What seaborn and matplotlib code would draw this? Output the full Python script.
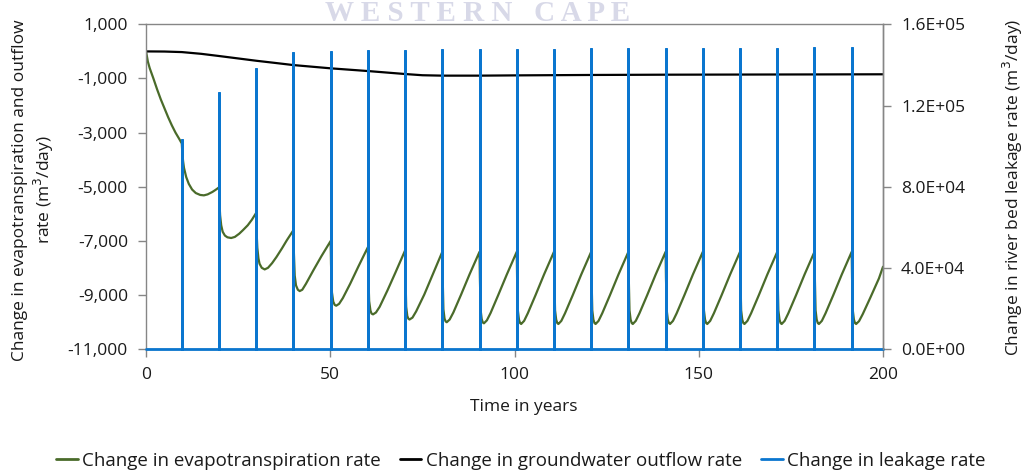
import matplotlib
matplotlib.use("Agg")
import matplotlib.pyplot as plt
import seaborn as sns
import pandas as pd
from matplotlib.ticker import FixedLocator, FuncFormatter
from matplotlib.lines import Line2D

# ---------------- data ----------------
# Evapotranspiration change (m3/day)
et_years = [
    0, 0.5, 1, 2, 3, 4, 5, 6, 7, 8, 9, 9.7,
    9.85, 10.05, 10.3, 10.9, 11.6, 12.5, 13.5, 14.7, 15.7, 16.7, 18.0, 18.9, 19.8,
    19.9, 20.1, 20.4, 20.8, 21.4, 22.1, 23.1, 24.1, 25.3, 26.3, 27.6, 28.7, 29.9,
    30.0, 30.2, 30.5, 30.8, 31.4, 32.2, 33.1, 34.2, 35.4, 36.9, 38.2, 40.0,
    40.1, 40.35, 40.7, 41.2, 41.7, 42.4, 43.4, 45.4, 47.6, 50.1,
    50.2, 50.45, 50.8, 51.2, 51.6, 52.4, 53.4, 55.4, 57.6, 60.2,
    60.3, 60.55, 60.9, 61.2, 61.6, 62.4, 63.4, 65.5, 67.7, 70.3,
    70.4, 70.6, 70.9, 71.2, 71.5, 72.3, 73.3, 75.5, 77.7, 80.4,
    80.5, 80.7, 81.0, 81.3, 81.6, 82.4, 83.4, 85.5, 87.8, 90.5,
    90.6, 90.8, 91.1, 91.4, 91.7, 92.5, 93.5, 95.6, 97.9, 100.6,
    100.7, 100.9, 101.2, 101.5, 101.8, 102.6, 103.6, 105.7, 108.0, 110.7,
    110.8, 111.0, 111.3, 111.6, 111.9, 112.7, 113.7, 115.8, 118.1, 120.8,
    120.9, 121.1, 121.4, 121.7, 122.0, 122.8, 123.8, 125.9, 128.2, 130.9,
    131.0, 131.2, 131.5, 131.8, 132.1, 132.9, 133.9, 136.0, 138.3, 141.0,
    141.1, 141.3, 141.6, 141.9, 142.2, 143.0, 144.0, 146.1, 148.4, 151.1,
    151.2, 151.4, 151.7, 152.0, 152.3, 153.1, 154.1, 156.2, 158.5, 161.2,
    161.3, 161.5, 161.8, 162.1, 162.4, 163.2, 164.2, 166.3, 168.6, 171.3,
    171.4, 171.6, 171.9, 172.2, 172.5, 173.3, 174.3, 176.4, 178.7, 181.4,
    181.5, 181.7, 182.0, 182.3, 182.6, 183.4, 184.4, 186.5, 188.8, 191.5,
    191.6, 191.8, 192.1, 192.4, 192.7, 193.5, 194.5, 196.6, 198.9, 200.0,
]
et_values = [
    0, -380, -620, -1000, -1400, -1770, -2100, -2430, -2730, -3000, -3230, -3400,
    -3750, -4050, -4300, -4640, -4890, -5100, -5230, -5300, -5315, -5280, -5190, -5110, -5020,
    -5500, -6050, -6420, -6660, -6800, -6865, -6890, -6850, -6730, -6600, -6420, -6220, -5960,
    -6650, -7250, -7640, -7840, -7990, -8050, -7990, -7820, -7590, -7270, -6975, -6600,
    -7350, -8280, -8640, -8800, -8850, -8800, -8580, -8085, -7560, -7000,
    -7850, -8900, -9240, -9360, -9390, -9320, -9110, -8580, -7950, -7230,
    -8150, -9220, -9570, -9680, -9710, -9640, -9430, -8830, -8160, -7350,
    -8300, -9430, -9770, -9870, -9900, -9830, -9600, -8980, -8270, -7400,
    -8350, -9520, -9860, -9970, -10000, -9900, -9640, -8980, -8230, -7400,
    -8350, -9550, -9890, -10010, -10040, -9930, -9660, -8990, -8240, -7400,
    -8350, -9560, -9900, -10030, -10065, -9950, -9670, -9000, -8240, -7400,
    -8350, -9560, -9900, -10030, -10065, -9950, -9670, -9000, -8240, -7400,
    -8350, -9560, -9900, -10030, -10065, -9950, -9670, -9000, -8240, -7400,
    -8350, -9560, -9900, -10030, -10065, -9950, -9670, -9000, -8240, -7400,
    -8350, -9560, -9900, -10030, -10065, -9950, -9670, -9000, -8240, -7400,
    -8350, -9560, -9900, -10030, -10065, -9950, -9670, -9000, -8240, -7400,
    -8350, -9560, -9900, -10030, -10065, -9950, -9670, -9000, -8240, -7400,
    -8350, -9560, -9900, -10030, -10065, -9950, -9670, -9000, -8240, -7400,
    -8350, -9560, -9900, -10030, -10065, -9950, -9670, -9000, -8240, -7400,
    -8350, -9560, -9900, -10030, -10065, -9960, -9700, -9080, -8380, -7950,
]

# Groundwater outflow change (m3/day)
gw_years = [0, 5, 9.7, 15, 19.8, 25, 29.9, 35, 40.0, 50.1, 60.2, 70.3, 75,
            80.4, 90.5, 100.6, 120.8, 141.0, 161.2, 181.4, 200]
gw_values = [0, -5, -25, -90, -170, -260, -345, -425, -505, -625, -725, -835, -880,
             -895, -895, -885, -870, -860, -855, -850, -845]

# River-bed leakage change (m3/day): spike times and peak values
leak_years = [9.7, 19.8, 29.9, 40.0, 50.1, 60.2, 70.3, 80.4, 90.5, 100.6,
              110.7, 120.8, 130.9, 141.0, 151.1, 161.2, 171.3, 181.4, 191.5]
leak_peaks = [103500, 126500, 138500, 146200, 146900, 147300, 147600, 147700,
              147800, 147900, 148000, 148100, 148200, 148300, 148300, 148400,
              148500, 148600, 148700]

left_ticks = [-11000, -9000, -7000, -5000, -3000, -1000, 1000]
right_ticks = [0, 40000, 80000, 120000, 160000]
x_ticks = [0, 50, 100, 150, 200]

labels = ["Change in evapotranspiration rate",
          "Change in groundwater outflow rate",
          "Change in leakage rate"]

# ---------------- style ----------------
sns.set_style("white")
plt.rcParams["font.family"] = ["Open Sans", "DejaVu Sans"]

GREEN = "#4a6b2a"
BLACK = "#000000"
BLUE = "#0a76cf"
GRAY = "#868686"
TXT = "#1a1a1a"
FS = 12.5

fig = plt.figure(figsize=(10.27, 4.75), dpi=100)
ax = fig.add_axes([0.1422, 0.2646, 0.7176, 0.6842])
ax2 = ax.twinx()

et_df = pd.DataFrame({"year": et_years, "value": et_values})
gw_df = pd.DataFrame({"year": gw_years, "value": gw_values})

# build spike line for leakage from the spike arrays
lx, ly = [0], [0]
for t, p in zip(leak_years, leak_peaks):
    lx += [t, t, t]
    ly += [0, p, 0]
lx.append(200)
ly.append(0)
lk_df = pd.DataFrame({"year": lx, "value": ly})

sns.lineplot(data=et_df, x="year", y="value", ax=ax, color=GREEN, lw=1.6,
             estimator=None, sort=False, legend=False)
sns.lineplot(data=gw_df, x="year", y="value", ax=ax, color=BLACK, lw=1.6,
             estimator=None, sort=False, legend=False)
sns.lineplot(data=lk_df, x="year", y="value", ax=ax2, color=BLUE, lw=2.0,
             estimator=None, sort=False, legend=False)
for ln in ax2.get_lines():
    ln.set_clip_on(False)
    ln.set_solid_joinstyle("miter")

ax.set_xlim(0, 200)
ax.set_ylim(-11000, 1000)
ax2.set_ylim(0, 160000)

ax.xaxis.set_major_locator(FixedLocator(x_ticks))
ax.yaxis.set_major_locator(FixedLocator(left_ticks))
ax2.yaxis.set_major_locator(FixedLocator(right_ticks))
ax.yaxis.set_major_formatter(FuncFormatter(lambda v, p: f"{v:,.0f}"))
ax2.yaxis.set_major_formatter(FuncFormatter(lambda v, p: f"{v:.1E}"))
ax.xaxis.set_major_formatter(FuncFormatter(lambda v, p: f"{v:.0f}"))

ax.set_xlabel("")
ax.set_ylabel("")
ax2.set_ylabel("")

for a in (ax, ax2):
    for s in a.spines.values():
        s.set_color(GRAY)
        s.set_linewidth(1.0)
ax2.spines["left"].set_visible(False)
ax2.spines["top"].set_visible(False)
ax2.spines["bottom"].set_visible(False)

ax.tick_params(axis="both", direction="out", length=6, width=1, color=GRAY,
               labelsize=FS, labelcolor=TXT, pad=7)
ax.tick_params(axis="y", left=True, right=False)
ax.tick_params(axis="x", bottom=True)
ax2.tick_params(axis="y", direction="out", length=6, width=1, color=GRAY,
                labelsize=FS, labelcolor=TXT, pad=7, right=True)

fig.text(0.5098, 1 - 407 / 475, "Time in years", ha="center", va="center",
         fontsize=FS, color=TXT)
fig.text(34 / 1027, 0.600,
         "Change in evapotranspiration and outflow\nrate (m$^3$/day)",
         rotation=90, ha="center", va="center", multialignment="center",
         fontsize=FS, color=TXT, linespacing=1.2)
fig.text(1013 / 1027, 0.605, "Change in river bed leakage rate (m$^3$/day)",
         rotation=90, ha="center", va="center", fontsize=FS, color=TXT)

# watermark at the top edge
fig.text(478 / 1027, 1 - 21 / 475, "W E S T E R N   C A P E", ha="center",
         va="baseline", fontsize=21, color="#d8d9e8", family="Liberation Serif",
         fontweight="bold")

handles = [Line2D([], [], color=GREEN, lw=2),
           Line2D([], [], color=BLACK, lw=2),
           Line2D([], [], color=BLUE, lw=2)]
fig.legend(handles, labels, loc="center", bbox_to_anchor=(521 / 1027, 1 - 461 / 475),
           ncol=3, frameon=False, fontsize=13.5, handlelength=1.15,
           handletextpad=0.25, columnspacing=1.0, labelcolor=TXT)

fig.savefig("out.png", dpi=100)
